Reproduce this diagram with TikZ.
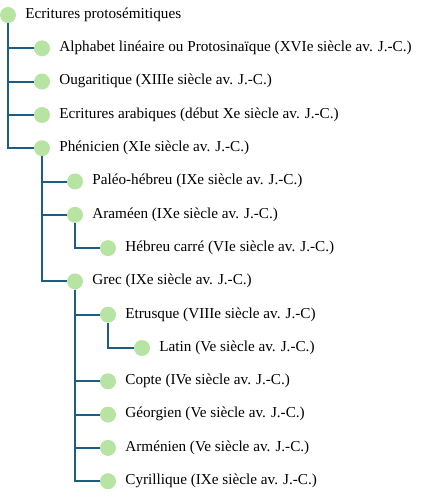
\documentclass[tikz,border=0pt]{standalone}
\usepackage{fontspec}
\setmainfont{Liberation Serif}
\usepackage{tikz}
\definecolor{branchblue}{HTML}{1B5E82}
\definecolor{leafgreen}{HTML}{B7E4A3}
\begin{document}
\begin{tikzpicture}[x=1pt, y=-1pt, label distance=9pt,
    leaf/.style={circle, fill=leafgreen, minimum size=16pt, inner sep=0pt},
    every label/.style={inner sep=0pt, text height=0.66em, text depth=0pt, font=\rmfamily\fontsize{15.2pt}{18pt}\selectfont},
    branch/.style={draw=branchblue, line width=2pt}]
    \useasboundingbox (0,0) rectangle (430,500);

    % the scripts (here I just create nodes to use them later on for the branches)
    \node[leaf, label=right:{Ecritures protosémitiques}] (root) at (8,15) {};
    \node[leaf, label=right:{Alphabet linéaire ou Protosinaïque (XVIe siècle av. J.-C.)}] (alpha) at (42,48.3) {};
    \node[leaf, label=right:{Ougaritique (XIIIe siècle av. J.-C.)}] (ouga) at (42,81.6) {};
    \node[leaf, label=right:{Ecritures arabiques (début Xe siècle av. J.-C.)}] (arab) at (42,115) {};
    \node[leaf, label=right:{Phénicien (XIe siècle av. J.-C.)}] (phen) at (42,148.2) {};
    %
    \node[leaf, label=right:{Paléo-hébreu (IXe siècle av. J.-C.)}] (paleo) at (75,181.5) {};
    \node[leaf, label=right:{Araméen (IXe siècle av. J.-C.)}] (aram) at (75,214.8) {};
    \node[leaf, label=right:{Hébreu carré (VIe siècle av. J.-C.)}] (hebr) at (108,248.1) {};
    \node[leaf, label=right:{Grec (IXe siècle av. J.-C.)}] (grec) at (75,281.4) {};
    %
    \node[leaf, label=right:{Etrusque (VIIIe siècle av. J.-C)}] (etru) at (108,314.7) {};
    \node[leaf, label=right:{Latin (Ve siècle av. J.-C.)}] (latin) at (142,348) {};
    \node[leaf, label=right:{Copte (IVe siècle av. J.-C.)}] (copte) at (108,381.3) {};
    \node[leaf, label=right:{Géorgien (Ve siècle av. J.-C.)}] (georg) at (108,414.6) {};
    \node[leaf, label=right:{Arménien (Ve siècle av. J.-C.)}] (armen) at (108,447.9) {};
    \node[leaf, label=right:{Cyrillique (IXe siècle av. J.-C.)}] (cyril) at (108,481.2) {};

    % draw the branches
    \draw[branch] (root) |- (alpha);
    \draw[branch] (root) |- (ouga);
    \draw[branch] (root) |- (arab);
    \draw[branch] (root) |- (phen);
    \draw[branch] (phen) |- (paleo);
    \draw[branch] (phen) |- (aram);
    \draw[branch] (phen) |- (grec);
    \draw[branch] (aram) |- (hebr);
    \draw[branch] (grec) |- (etru);
    \draw[branch] (etru) |- (latin);
    \draw[branch] (grec) |- (copte);
    \draw[branch] (grec) |- (georg);
    \draw[branch] (grec) |- (armen);
    \draw[branch] (grec) |- (cyril);
\end{tikzpicture}
\end{document}
